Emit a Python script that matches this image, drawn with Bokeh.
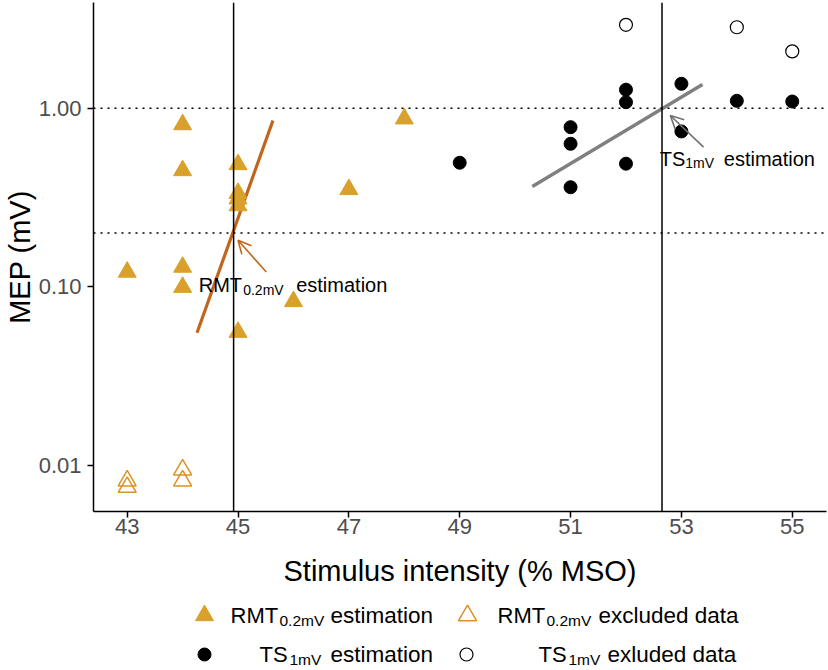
from bokeh.plotting import figure
from bokeh.models import Span, Arrow, OpenHead, FixedTicker, NumeralTickFormatter, Range1d
from bokeh.layouts import column
from bokeh.embed import file_html
from bokeh.resources import INLINE
from bokeh.core.properties import value

# ---------------- data ----------------
rmt_x = [43, 44, 44, 44, 44, 45, 45, 45, 45, 45, 46, 47, 48]
rmt_y = [0.121, 0.81, 0.448, 0.129, 0.0995, 0.484, 0.334, 0.311, 0.285, 0.0557, 0.0828, 0.351, 0.873]
rmt_excl_x = [43, 43, 44, 44]
rmt_excl_y = [0.0082, 0.00755, 0.00945, 0.0082]
ts_x = [49, 51, 51, 51, 52, 52, 52, 53, 53, 54, 55]
ts_y = [0.495, 0.783, 0.632, 0.361, 1.27, 1.08, 0.489, 1.37, 0.741, 1.10, 1.09]
ts_excl_x = [52, 54, 55]
ts_excl_y = [2.93, 2.84, 2.08]
rmt_fit_x = [44.26, 45.63]
rmt_fit_y = [0.0553, 0.853]
ts_fit_x = [50.31, 53.38]
ts_fit_y = [0.364, 1.357]
rmt_threshold = 44.92
ts_threshold = 52.65
ref_levels = [1.0, 0.2]
x_ticks = [43, 45, 47, 49, 51, 53, 55]
y_ticks = [0.01, 0.1, 1]
rmt_arrow = dict(x_start=45.51, y_start=0.121, x_end=45.0, y_end=0.182)
ts_arrow = dict(x_start=53.40, y_start=0.605, x_end=52.80, y_end=0.91)
rmt_label_pos = (44.29, 0.1023)
ts_label_pos = (52.61, 0.5175)

# ---------------- style ----------------
FONT_NAME = "Liberation Sans"
FONT = value(FONT_NAME)
RMT_FILL = "#D9A02B"
RMT_EXCL = "#DB9226"
RMT_LINE = "#C1651C"
TS_LINE = "#808080"

W = 828
FRAME_L, FRAME_R = 93, 826

p = figure(width=W, height=591,
           x_range=Range1d(42.392, 55.618), y_range=Range1d(0.005517, 3.907),
           y_axis_type="log", output_backend="svg", toolbar_location=None,
           min_border_left=FRAME_L, min_border_right=W - FRAME_R,
           min_border_top=2, min_border_bottom=80)
p.outline_line_color = None
p.grid.visible = False
p.background_fill_color = "white"

for ax in (p.xaxis[0], p.yaxis[0]):
    ax.axis_line_color = "black"
    ax.axis_line_width = 1.5
    ax.major_tick_line_color = "black"
    ax.major_tick_line_width = 1.5
    ax.major_tick_in = 0
    ax.major_tick_out = 6
    ax.minor_tick_line_color = None
    ax.major_label_text_font = FONT_NAME
    ax.major_label_text_font_size = "22px"
    ax.major_label_text_color = "#4D4D4D"
    ax.axis_label_text_font = FONT_NAME
    ax.axis_label_text_font_size = "29px"
    ax.axis_label_text_font_style = "normal"
    ax.axis_label_text_color = "black"

p.xaxis.ticker = FixedTicker(ticks=x_ticks)
p.yaxis.ticker = FixedTicker(ticks=y_ticks)
p.yaxis.formatter = NumeralTickFormatter(format="0.00")
p.xaxis.axis_label = "Stimulus intensity (% MSO)"
p.yaxis.axis_label = "MEP (mV)"
p.xaxis.major_label_standoff = 1
p.xaxis.axis_label_standoff = 18
p.yaxis.major_label_standoff = 6
p.yaxis.axis_label_standoff = 0

# reference lines
for lvl in ref_levels:
    p.add_layout(Span(location=lvl, dimension="width", line_color="black",
                      line_width=1.6, line_dash="2 5"))
for thr in (rmt_threshold, ts_threshold):
    p.add_layout(Span(location=thr, dimension="height", line_color="black", line_width=1.5))

# fit lines
p.line(rmt_fit_x, rmt_fit_y, line_color=RMT_LINE, line_width=3.2)
p.line(ts_fit_x, ts_fit_y, line_color=TS_LINE, line_width=3.5)

# points
p.scatter(rmt_x, rmt_y, marker="triangle", size=18, fill_color=RMT_FILL, line_color=RMT_FILL)
p.scatter(rmt_excl_x, rmt_excl_y, marker="triangle", size=18, fill_color=None,
          line_color=RMT_EXCL, line_width=1.5)
p.scatter(ts_x, ts_y, marker="circle", size=13, fill_color="black", line_color="black")
p.scatter(ts_excl_x, ts_excl_y, marker="circle", size=13, fill_color=None,
          line_color="black", line_width=1.2)

# arrows
p.add_layout(Arrow(end=OpenHead(size=13, line_color=RMT_LINE, line_width=1.6),
                   line_color=RMT_LINE, line_width=1.6, **rmt_arrow))
p.add_layout(Arrow(end=OpenHead(size=13, line_color="#707070", line_width=1.6),
                   line_color="#707070", line_width=1.6, **ts_arrow))

# annotation texts (main + subscript pieces)
def rich_label(fig, x, y, main, sub, rest, main_size, sub_size, sub_dx, sub_dy, rest_dx):
    fig.text([x], [y], text=[main], text_font=FONT, text_font_size=main_size,
             text_baseline="middle", text_align="left", text_color="black")
    fig.text([x], [y], text=[sub], text_font=FONT, text_font_size=sub_size,
             text_baseline="middle", text_align="left", text_color="black",
             x_offset=sub_dx, y_offset=sub_dy)
    fig.text([x], [y], text=[rest], text_font=FONT, text_font_size=main_size,
             text_baseline="middle", text_align="left", text_color="black",
             x_offset=rest_dx)

rich_label(p, rmt_label_pos[0], rmt_label_pos[1], "RMT", "0.2mV", "estimation",
           "20px", "14px", 44.5, 5, 97.5)
rich_label(p, ts_label_pos[0], ts_label_pos[1], "TS", "1mV", "estimation",
           "20px", "14px", 25.5, 4, 64)

# ---------------- legend panel (frame aligned with the main frame) ----------------
LEG_H = 77
leg = figure(width=W, height=LEG_H, x_range=Range1d(FRAME_L, FRAME_R),
             y_range=Range1d(LEG_H, 0),
             output_backend="svg", toolbar_location=None,
             x_axis_location=None, y_axis_location=None,
             min_border_left=FRAME_L, min_border_right=W - FRAME_R,
             min_border_top=0, min_border_bottom=0)
leg.grid.visible = False
leg.outline_line_color = None

row1, row2 = 24, 63
leg.scatter([204], [row1], marker="triangle", size=18, fill_color=RMT_FILL, line_color=RMT_FILL)
leg.scatter([467], [row1], marker="triangle", size=18, fill_color=None,
            line_color=RMT_EXCL, line_width=1.5)
leg.scatter([204], [row2], marker="circle", size=13, fill_color="black", line_color="black")
leg.scatter([466], [row2], marker="circle", size=13, fill_color=None,
            line_color="black", line_width=1.2)

def leg_label(x_main, x_sub, x_rest, y_row, main, sub, rest):
    leg.text([x_main], [y_row], text=[main], text_font=FONT, text_font_size="22px",
             text_baseline="middle", text_color="black")
    leg.text([x_sub], [y_row + 4.5], text=[sub], text_font=FONT, text_font_size="15.5px",
             text_baseline="middle", text_color="black")
    leg.text([x_rest], [y_row], text=[rest], text_font=FONT, text_font_size="22.5px",
             text_baseline="middle", text_color="black")

leg_label(230, 279, 330, row1, "RMT", "0.2mV", "estimation")
leg_label(497, 546, 598, row1, "RMT", "0.2mV", "excluded data")
leg_label(259, 289, 330, row2, "TS", "1mV", "estimation")
leg_label(538, 568, 607, row2, "TS", "1mV", "exluded data")

layout = column(p, leg, spacing=0)
open("out.html", "w").write(file_html(layout, INLINE))
